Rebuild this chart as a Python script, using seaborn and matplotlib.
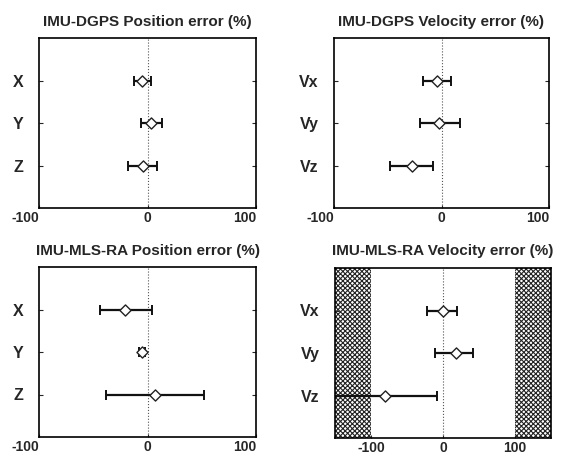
import numpy as np
import pandas as pd
import matplotlib
matplotlib.use("Agg")
import matplotlib.pyplot as plt
import seaborn as sns

sns.set_style("white")
plt.rcParams['font.family'] = ['Liberation Sans', 'DejaVu Sans']
plt.rcParams['hatch.linewidth'] = 0.8

pos_cats = ['X', 'Y', 'Z']
vel_cats = ['Vx', 'Vy', 'Vz']

dgps_pos_mean = [-5, 3, -4]
dgps_pos_lo = [-12, -6, -18]
dgps_pos_hi = [3, 13, 9]

dgps_vel_mean = [-4, -2, -27]
dgps_vel_lo = [-17, -20, -48]
dgps_vel_hi = [9, 17, -8]

mls_pos_mean = [-21, -5, 7]
mls_pos_lo = [-44, -8, -38]
mls_pos_hi = [4, -2, 52]

mls_vel_mean = [0, 18, -80]
mls_vel_lo = [-22, -11, -160]
mls_vel_hi = [19, 42, -9]

titles = ['IMU-DGPS Position error (%)', 'IMU-DGPS Velocity error (%)',
          'IMU-MLS-RA Position error (%)', 'IMU-MLS-RA Velocity error (%)']
xticks = [-100, 0, 100]
xlims = [(-100, 100), (-100, 100), (-100, 100), (-150, 150)]

W, H = 561, 457
fig = plt.figure(figsize=(W / 100, H / 100), dpi=100)
boxes = [(39, 38, 256, 208), (334, 38, 549, 208), (39, 267, 256, 437), (335, 268, 551, 438)]

panels = [
    (pos_cats, dgps_pos_mean, dgps_pos_lo, dgps_pos_hi),
    (vel_cats, dgps_vel_mean, dgps_vel_lo, dgps_vel_hi),
    (pos_cats, mls_pos_mean, mls_pos_lo, mls_pos_hi),
    (vel_cats, mls_vel_mean, mls_vel_lo, mls_vel_hi),
]

for i, ((cats, mean, lo, hi), (l, t, r, b)) in enumerate(zip(panels, boxes)):
    ax = fig.add_axes([l / W, 1 - b / H, (r - l) / W, (b - t) / H])
    df = pd.DataFrame({'cat': cats, 'mean': mean, 'lo': lo, 'hi': hi})
    ypos = np.arange(len(cats))
    if i == 3:
        ax.axvspan(-200, -100, facecolor='white', edgecolor='#222222', hatch='xxxxxxx', lw=0, zorder=0)
        ax.axvspan(100, 200, facecolor='white', edgecolor='#222222', hatch='xxxxxxx', lw=0, zorder=0)
    ax.axvline(0, color='#555555', lw=0.8, ls=':', zorder=1)
    m = np.array(mean)
    ax.errorbar(m, ypos, xerr=[m - np.array(lo), np.array(hi) - m], fmt='none',
                ecolor='#111111', elinewidth=1.6, capsize=3.5, capthick=1.4, zorder=2)
    sns.scatterplot(x=df['mean'], y=ypos, marker='D', s=32, color='white',
                    edgecolor='#222222', linewidth=1.0, ax=ax, zorder=3)
    ax.set_xlim(*xlims[i])
    ax.set_ylim(3, -1)
    ax.set_yticks(ypos)
    ax.set_yticklabels(cats, fontsize=11.5, fontweight='bold')
    ax.set_xticks(xticks)
    labs = ax.set_xticklabels([str(v) for v in xticks], fontsize=10, fontweight='bold')
    if i != 3:
        labs[0].set_horizontalalignment('right')
        labs[2].set_horizontalalignment('right')
    ax.set_xlabel('')
    ax.set_ylabel('')
    ax.tick_params(axis='y', direction='in', length=3, pad=11, left=True, right=True)
    ax.tick_params(axis='x', direction='in', length=2, pad=2, bottom=True, top=False)
    for s in ax.spines.values():
        s.set_color('black')
        s.set_linewidth(1.2)
    ax.set_title(titles[i], fontsize=11, fontweight='bold', pad=9)

fig.savefig('out.png', dpi=100)
